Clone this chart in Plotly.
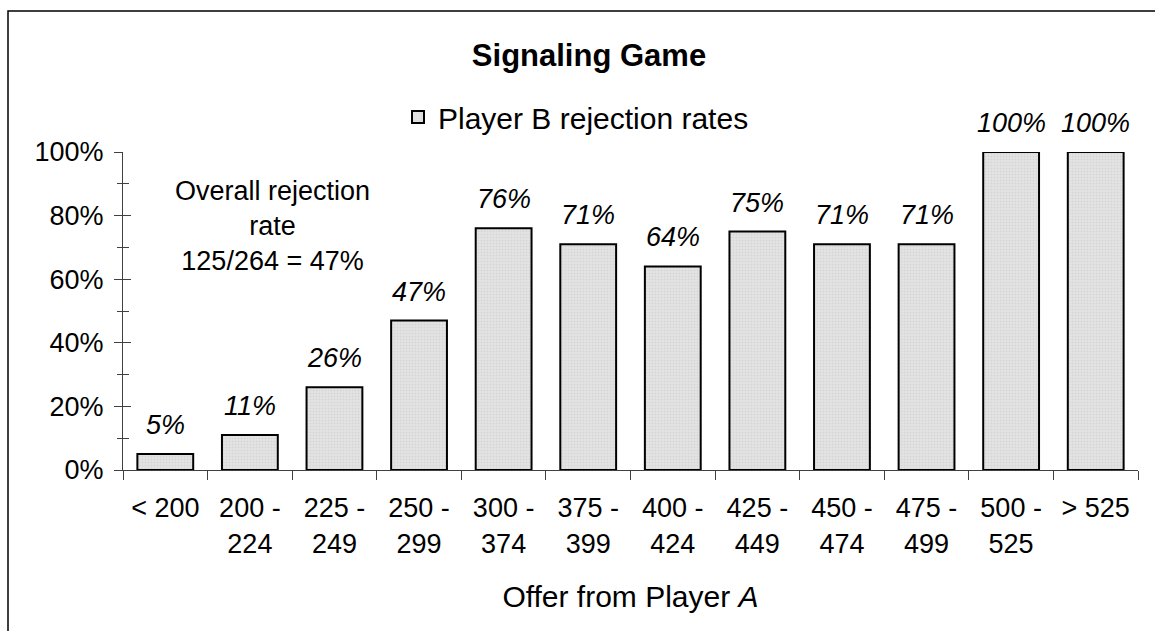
import plotly.graph_objects as go

# Offer bins from Player A and Player B rejection rates (%)
offer_bins = ["< 200", "200 -<br>224", "225 -<br>249", "250 -<br>299", "300 -<br>374",
              "375 -<br>399", "400 -<br>424", "425 -<br>449", "450 -<br>474",
              "475 -<br>499", "500 -<br>525", "> 525"]
rejection_rates = [5, 11, 26, 47, 76, 71, 64, 75, 71, 71, 100, 100]
y_tick_values = [0, 20, 40, 60, 80, 100]
y_tick_labels = ["0%", "20%", "40%", "60%", "80%", "100%"]

FONT = "Arial, Liberation Sans, sans-serif"
W, H = 1155, 631
ML, MR, MT, MB = 123, 17, 152, 161
PW, PH = W - ML - MR, H - MT - MB


def px_x(px):
    """Horizontal pixel position -> paper fraction."""
    return (px - ML) / PW


def px_y(py):
    """Vertical pixel position (from top) -> paper fraction."""
    return (H - MB - py) / PH


fig = go.Figure()
fig.add_trace(go.Bar(
    x=offer_bins,
    y=rejection_rates,
    name="Player B rejection rates",
    marker=dict(
        color="#dedede",
        line=dict(color="#000000", width=2),
        pattern=dict(shape=".", fgcolor="#c4c4c4", bgcolor="#e2e2e2", size=3, solidity=0.25),
    ),
))

# Italic value labels above each bar
for cat, val in zip(offer_bins, rejection_rates):
    fig.add_annotation(
        x=cat, y=val, xref="x", yref="y",
        text=f"{val:.0f}%", showarrow=False,
        yanchor="bottom", yshift=12,
        font=dict(family=FONT, size=27, color="#000000", style="italic"),
    )

# Overall rejection rate note
fig.add_annotation(
    x=px_x(272), y=px_y(226), xref="paper", yref="paper",
    text="Overall rejection<br>rate<br>125/264 = 47%",
    showarrow=False, align="center", xanchor="center", yanchor="middle",
    font=dict(family=FONT, size=27, color="#000000"),
)

# Chart frame
fig.add_shape(
    type="rect", xref="paper", yref="paper",
    x0=px_x(8), x1=px_x(1175),
    y0=px_y(650), y1=px_y(11),
    line=dict(color="#000000", width=1.5), fillcolor="rgba(0,0,0,0)", layer="below",
)

axis_line = "#404040"
fig.update_layout(
    width=W, height=H, autosize=False,
    margin=dict(l=ML, r=MR, t=MT, b=MB, pad=0),
    paper_bgcolor="#ffffff", plot_bgcolor="#ffffff",
    font=dict(family=FONT, size=27, color="#000000"),
    title=dict(
        text="<b>Signaling Game</b>", xref="container", yref="container",
        x=589 / W, y=1 - 55 / H, xanchor="center", yanchor="middle",
        font=dict(family=FONT, size=31, color="#000000"),
    ),
    showlegend=True,
    legend=dict(
        orientation="h", xref="paper", yref="paper",
        x=px_x(398), y=px_y(117), xanchor="left", yanchor="middle",
        font=dict(family=FONT, size=30, color="#000000"),
        bgcolor="rgba(0,0,0,0)", borderwidth=0,
    ),
    bargap=0.34,
    xaxis=dict(
        type="category", range=[-0.5, len(offer_bins) - 0.5],
        showgrid=False, zeroline=False,
        showline=True, linecolor=axis_line, linewidth=1,
        ticks="outside", tickson="boundaries", ticklen=9, tickcolor=axis_line,
        tickfont=dict(family=FONT, size=27, color="#000000"),
        ticklabelstandoff=14,
        title=dict(text="Offer from Player <i>A</i>", standoff=28,
                   font=dict(family=FONT, size=30, color="#000000")),
    ),
    yaxis=dict(
        range=[0, 100], showgrid=False, zeroline=False,
        showline=True, linecolor=axis_line, linewidth=1,
        tickvals=y_tick_values, ticktext=y_tick_labels,
        ticks="outside", ticklen=8, tickcolor=axis_line,
        minor=dict(dtick=10, ticks="outside", ticklen=5, tickcolor=axis_line),
        tickfont=dict(family=FONT, size=27, color="#000000"),
        ticklabelstandoff=5,
    ),
    # mirror axis supplying the inner half of the crossing ticks
    yaxis2=dict(
        range=[0, 100], overlaying="y", side="left", showgrid=False, zeroline=False,
        showline=False, tickvals=y_tick_values, showticklabels=False,
        ticks="inside", ticklen=8, tickcolor=axis_line,
        minor=dict(dtick=10, ticks="inside", ticklen=6, tickcolor=axis_line),
    ),
)

# invisible trace to anchor the mirror axis
fig.add_trace(go.Scatter(x=[offer_bins[0]], y=[0], yaxis="y2", mode="markers",
                         marker=dict(opacity=0), showlegend=False, hoverinfo="skip"))

fig.write_html("out.html")
